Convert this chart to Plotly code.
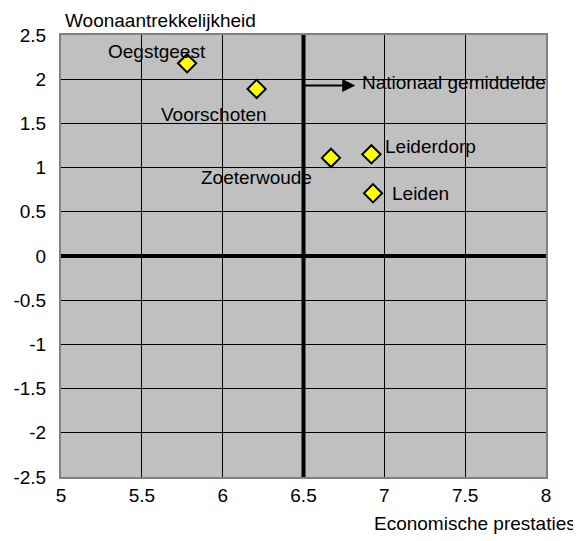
import plotly.graph_objs as go

# gemeenten: (economische prestaties, woonaantrekkelijkheid)
gemeenten = ['Oegstgeest', 'Voorschoten', 'Zoeterwoude', 'Leiderdorp', 'Leiden']
economie = [5.78, 6.21, 6.67, 6.92, 6.93]
wonen = [2.18, 1.89, 1.11, 1.15, 0.71]

# nationaal gemiddelde (kruis in de grafiek)
nat_economie = 6.5
nat_wonen = 0
pijl_y = 1.93
pijl_eind = 6.82

x_ticks = [5, 5.5, 6, 6.5, 7, 7.5, 8]
y_ticks = [2.5, 2, 1.5, 1, 0.5, 0, -0.5, -1, -1.5, -2, -2.5]

font = 'Liberation Sans, Arial, sans-serif'
fsize = 19

# label offsets in pixels (positie van de tekst t.o.v. het punt)
label_pos = {
    'Oegstgeest': dict(xanchor='center', xshift=-30, yshift=12),
    'Voorschoten': dict(xanchor='center', xshift=-43, yshift=-26),
    'Zoeterwoude': dict(xanchor='center', xshift=-74, yshift=-20),
    'Leiderdorp': dict(xanchor='left', xshift=12, yshift=8),
    'Leiden': dict(xanchor='left', xshift=17, yshift=0),
}

fig = go.Figure(
    data=[
        go.Scatter(
            x=economie, y=wonen, mode='markers',
            marker=dict(symbol='diamond', size=14, color='#ffff00',
                        line=dict(color='black', width=2)),
            cliponaxis=False
        )
    ]
)

# dikke lijnen voor het nationaal gemiddelde
fig.add_shape(type='line', xref='x', yref='y', x0=nat_economie, x1=nat_economie,
              y0=y_ticks[-1], y1=y_ticks[0], line=dict(color='black', width=4))
fig.add_shape(type='line', xref='x', yref='y', x0=x_ticks[0], x1=x_ticks[-1],
              y0=nat_wonen, y1=nat_wonen, line=dict(color='black', width=4))

for naam, xv, yv in zip(gemeenten, economie, wonen):
    fig.add_annotation(x=xv, y=yv, text=naam, showarrow=False,
                       font=dict(size=fsize, color='black', family=font),
                       yanchor='middle', **label_pos[naam])

# pijl + tekst
fig.add_annotation(x=pijl_eind, y=pijl_y, ax=nat_economie, ay=pijl_y,
                   axref='x', ayref='y', text='', showarrow=True,
                   arrowhead=2, arrowsize=1.3, arrowwidth=2, arrowcolor='black')
fig.add_annotation(x=pijl_eind, y=pijl_y, text='Nationaal gemiddelde', showarrow=False,
                   xanchor='left', xshift=5, yshift=3, yanchor='middle',
                   font=dict(size=fsize, color='black', family=font))

# as-titels
fig.add_annotation(xref='paper', yref='paper', x=0.0, y=1, text='Woonaantrekkelijkheid',
                   showarrow=False, xanchor='left', yanchor='bottom', xshift=2, yshift=2,
                   font=dict(size=fsize, color='black', family=font))
fig.add_annotation(xref='paper', yref='paper', x=1, y=0, text='Economische prestaties',
                   showarrow=False, xanchor='right', yanchor='top', xshift=32, yshift=-34,
                   font=dict(size=fsize, color='black', family=font))

# de pagina heeft 8px marge, daarom iets kleiner dan 581x541
fig.update_layout(
    width=573, height=533,
    showlegend=False,
    plot_bgcolor='#c0c0c0',
    paper_bgcolor='white',
    font=dict(family=font, size=fsize, color='black'),
    margin=dict(l=53, r=35, t=27, b=64, autoexpand=False)
)

fig.update_xaxes(range=[x_ticks[0], x_ticks[-1]], tickvals=x_ticks, ticktext=[f'{v:g}' for v in x_ticks],
                 showgrid=True, gridcolor='black', gridwidth=1, zeroline=False,
                 showline=True, linecolor='#808080', linewidth=2, mirror=True, ticks='',
                 automargin=False)
fig.update_yaxes(range=[y_ticks[-1], y_ticks[0]], tickvals=y_ticks, ticktext=[f'{v:g}' for v in y_ticks],
                 showgrid=True, gridcolor='black', gridwidth=1, zeroline=False,
                 showline=True, linecolor='#808080', linewidth=2, mirror=True, ticks='',
                 ticklabelstandoff=9, automargin=False)

fig.write_html('out.html')
